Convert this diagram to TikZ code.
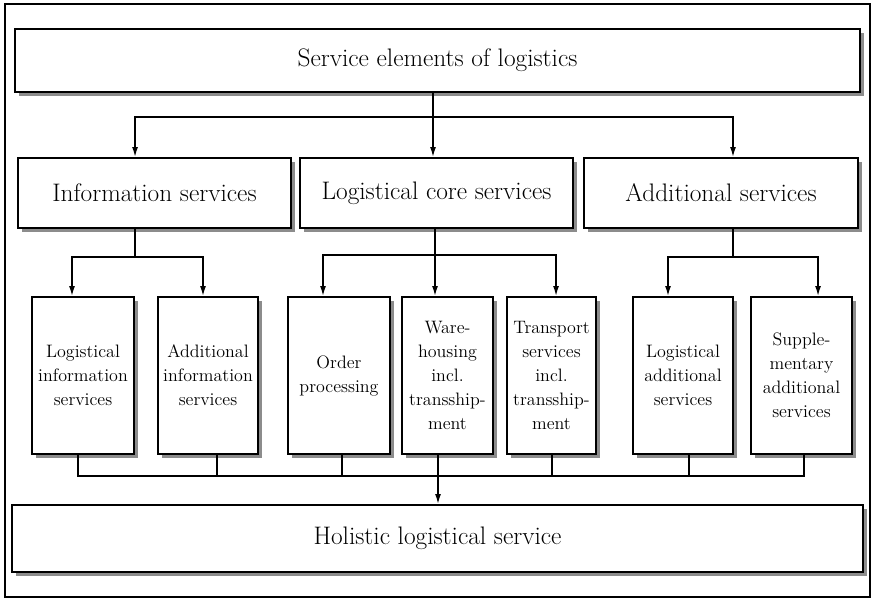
\documentclass[tikz,border=0pt]{standalone}
\usetikzlibrary{arrows.meta,shadows}

\tikzset{every picture/.style={line width=0.75pt}}
\tikzset{
  box/.style={draw, line width=1.5pt, fill=white, inner sep=0pt, align=center,
    drop shadow={shadow xshift=3pt, shadow yshift=-3pt, fill=black!45, opacity=1}},
  bigtext/.style={font=\fontsize{19}{23}\selectfont},
  smalltext/.style={font=\fontsize{13.5}{18}\selectfont},
  midbox/.style={box, bigtext, minimum width=205pt, minimum height=52.5pt},
  lowbox/.style={box, smalltext, minimum height=117.75pt},
  conn/.style={line width=1.1pt},
  arr/.style={conn, -{Latex[length=7.5pt,width=4.5pt]}}
}

\begin{document}
\begin{tikzpicture}[x=0.75pt,y=0.75pt,yscale=-1,xscale=1]
	\useasboundingbox (0,0) rectangle (874,601);

	%Shape: Frame
	\draw [line width=1pt] (5,4) rectangle (870,597);

	% Top level
	\node [box, bigtext, minimum width=633.75pt, minimum height=47.25pt] (top) at (437.5,60.5) {Service elements of logistics};

	% Second level
	\node [midbox] (info) at (154.5,193) {Information services};
	\node [midbox] (core) at (436.5,193) {Logistical core services};
	\node [midbox] (add) at (721,193) {Additional services};

	% Third level
	\node [lowbox, minimum width=76.5pt] (lis) at (83,375.5) {Logistical\\information\\services};
	\node [lowbox, minimum width=75pt] (ais) at (208,375.5) {Additional\\information\\services};
	\node [lowbox, minimum width=76.5pt] (ord) at (339,375.5) {Order\\processing};
	\node [lowbox, minimum width=68.25pt] (ware) at (447.5,375.5) {Ware-\\housing\\incl.\\transship-\\ment};
	\node [lowbox, minimum width=66.75pt] (trans) at (551.5,375.5) {Transport\\services\\incl.\\transship-\\ment};
	\node [lowbox, minimum width=75pt] (lads) at (683,375.5) {Logistical\\additional\\services};
	\node [lowbox, minimum width=75.75pt] (sads) at (801.5,375.5) {Supple-\\mentary\\additional\\services};

	% Bottom level
	\node [box, bigtext, minimum width=638.25pt, minimum height=50.25pt] (hol) at (437.5,538.5) {Holistic logistical service};

	%Split points
	\coordinate (tsplit) at (433,117);
	\coordinate (isplit) at (135,257);
	\coordinate (csplit) at (435,255);
	\coordinate (asplit) at (733,257);
	\coordinate (bjoin) at (438,476);

	% Top to second level
	\draw [arr] (top.south -| tsplit) -- (tsplit |- core.north);
	\draw [arr] (tsplit) -| ([xshift=-14.6pt]info.north);
	\draw [arr] (tsplit) -| ([xshift=9pt]add.north);

	% Information services
	\draw [conn] (isplit |- info.south) -- (isplit);
	\draw [arr] (isplit) -| ([xshift=-8.25pt]lis.north);
	\draw [arr] (isplit) -| ([xshift=-3.75pt]ais.north);

	% Core services
	\draw [conn] (csplit |- core.south) -- (csplit);
	\draw [arr] (csplit) -| ([xshift=-12pt]ord.north);
	\draw [arr] (csplit) -- (csplit |- ware.north);
	\draw [arr] (csplit) -| ([xshift=3.4pt]trans.north);

	% Additional services
	\draw [conn] (asplit |- add.south) -- (asplit);
	\draw [arr] (asplit) -| ([xshift=-11.25pt]lads.north);
	\draw [arr] (asplit) -| ([xshift=12.4pt]sads.north);

	% Join to holistic service
	\draw [conn] ([xshift=-3.75pt]lis.south) |- (bjoin);
	\draw [conn] ([xshift=1.9pt]sads.south) |- (bjoin);
	\draw [conn] ([xshift=6.75pt]ais.south) -- ([xshift=6.75pt]ais.south |- bjoin);
	\draw [conn] ([xshift=2.25pt]ord.south) -- ([xshift=2.25pt]ord.south |- bjoin);
	\draw [conn] ([xshift=-7.1pt]ware.south) -- ([xshift=-7.1pt]ware.south |- bjoin);
	\draw [conn] ([xshift=0.4pt]trans.south) -- ([xshift=0.4pt]trans.south |- bjoin);
	\draw [conn] ([xshift=4.5pt]lads.south) -- ([xshift=4.5pt]lads.south |- bjoin);
	\draw [arr] (bjoin) -- (bjoin |- hol.north);

\end{tikzpicture}
\end{document}
